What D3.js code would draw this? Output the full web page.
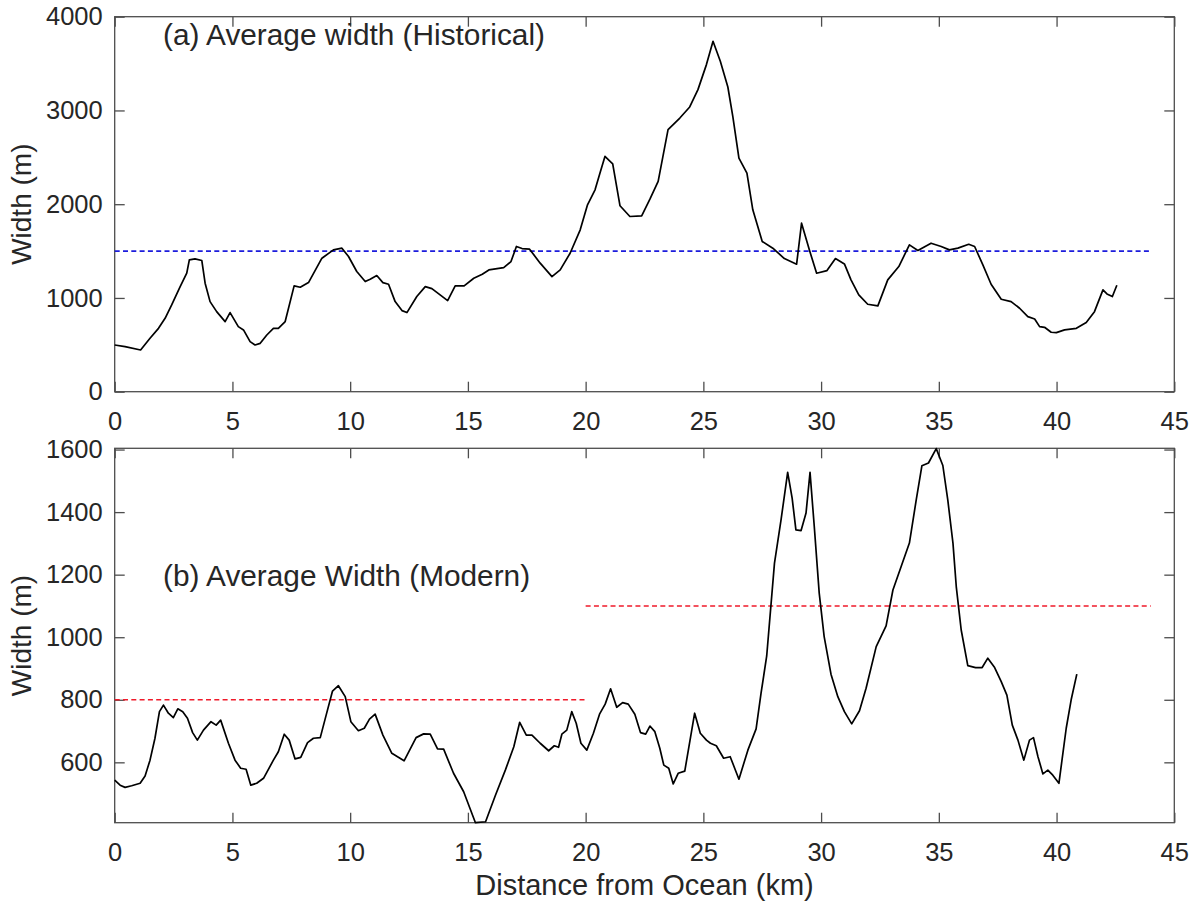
<!DOCTYPE html>
<html><head><meta charset="utf-8">
<script src="https://cdn.jsdelivr.net/npm/d3@7"></script>
<style>body{margin:0;background:#fff}svg{display:block}text{font-family:"Liberation Sans",Arial,sans-serif;fill:#262626}</style>
</head><body><svg id="c" width="1200" height="905"></svg>
<script>
const histKm=[0,0.44,1.1,1.5,1.86,2.14,2.42,2.78,3.06,3.17,3.41,3.7,3.84,4.05,4.33,4.69,4.9,5.25,5.47,5.75,5.96,6.18,6.46,6.74,6.95,7.24,7.62,7.88,8.23,8.8,9.29,9.65,9.93,10.28,10.64,10.85,11.13,11.39,11.63,11.91,12.2,12.41,12.83,13.19,13.47,13.82,14.14,14.46,14.84,15.25,15.61,15.89,16.52,16.83,17.06,17.3,17.62,18.07,18.57,18.92,19.34,19.77,20.08,20.4,20.61,20.82,21.15,21.46,21.88,22.38,22.73,23.08,23.5,24.0,24.42,24.77,25.13,25.41,25.72,26.04,26.25,26.51,26.85,27.1,27.5,27.95,28.44,28.96,29.17,29.5,29.81,30.25,30.61,30.99,31.27,31.6,31.98,32.41,32.83,33.3,33.75,34.11,34.67,35.1,35.45,35.81,36.27,36.52,36.87,37.22,37.65,38.07,38.43,38.78,39.07,39.28,39.49,39.77,39.99,40.34,40.84,41.26,41.61,41.97,42.14,42.37,42.56];
const histWidth=[498,480,445,570,676,783,926,1121,1264,1406,1417,1399,1157,961,854,748,844,694,659,534,498,516,605,676,676,748,1129,1114,1164,1424,1513,1531,1442,1282,1175,1200,1239,1164,1146,961,865,844,1015,1121,1100,1032,972,1129,1129,1210,1253,1299,1324,1388,1549,1527,1520,1371,1228,1299,1477,1727,1994,2154,2332,2510,2431,1983,1869,1876,2054,2243,2795,2919,3037,3222,3489,3738,3524,3250,2937,2492,2332,1940,1602,1531,1420,1360,1798,1513,1264,1292,1420,1363,1193,1032,933,915,1193,1335,1566,1506,1584,1549,1513,1531,1573,1549,1353,1146,986,961,890,801,776,694,687,634,630,659,676,737,854,1086,1043,1015,1136];
const modKm=[0,0.23,0.44,0.72,1.08,1.29,1.5,1.71,1.9,2.07,2.28,2.49,2.68,2.89,3.09,3.31,3.51,3.77,4.09,4.31,4.5,4.83,5.11,5.35,5.58,5.78,6.03,6.32,6.74,6.95,7.2,7.41,7.66,7.9,8.19,8.44,8.73,8.98,9.25,9.5,9.79,10.03,10.35,10.6,10.82,11.06,11.39,11.77,12.29,12.8,13.12,13.4,13.71,13.97,14.39,14.82,15.32,15.75,16.17,16.59,16.95,17.2,17.48,17.72,18.07,18.43,18.67,18.85,18.99,19.2,19.41,19.6,19.8,20.05,20.33,20.59,20.83,21.06,21.32,21.57,21.81,22.09,22.33,22.55,22.73,22.94,23.15,23.32,23.53,23.72,23.93,24.21,24.63,24.87,25.13,25.3,25.55,25.86,26.14,26.51,26.89,27.24,27.45,27.69,28.02,28.3,28.58,28.77,28.93,29.15,29.36,29.53,29.71,29.92,30.13,30.42,30.71,30.99,31.3,31.63,31.91,32.34,32.76,33.05,33.4,33.75,34.04,34.28,34.56,34.89,35.17,35.38,35.6,35.74,35.95,36.23,36.56,36.84,37.08,37.37,37.65,37.89,38.12,38.36,38.61,38.85,39.02,39.21,39.42,39.63,39.84,40.1,40.41,40.62,40.86];
const modWidth=[543,527,520,525,533,556,607,677,762,783,757,743,771,762,741,695,671,703,730,719,735,661,607,581,578,527,533,549,607,634,690,671,611,616,663,677,679,751,828,845,810,730,701,709,738,754,687,629,605,679,691,690,643,642,565,506,407,410,495,575,650,728,687,687,661,637,653,648,690,703,762,725,661,639,693,754,786,835,776,791,786,754,695,690,716,698,645,591,581,531,565,572,757,693,671,661,653,613,618,546,639,707,821,940,1237,1376,1527,1445,1343,1341,1397,1527,1354,1141,1002,882,810,762,723,765,837,970,1036,1151,1226,1301,1439,1548,1557,1603,1549,1439,1301,1162,1023,909,903,903,933,903,858,815,719,671,607,671,679,618,563,575,559,533,709,800,882];
const histMean=[{x0:0,x1:44,y:1500}];
const modMean=[{x0:0,x1:20,y:800},{x0:20,x1:44,y:1100}];
const xTicks=[0,5,10,15,20,25,30,35,40,45];
const histYTicks=[0,1000,2000,3000,4000];
const modYTicks=[600,800,1000,1200,1400,1600];
const titles=["(a) Average width (Historical)","(b) Average Width (Modern)"];

const svg=d3.select("#c");
const L=114.7,R=1174.3;
const x=d3.scaleLinear().domain([0,45]).range([L,R]);
const fmt=d3.format("d");
const panels=[
 {top:16.7,bot:391.7,ydom:[0,4000],ticks:histYTicks,km:histKm,w:histWidth,mean:histMean,col:"#1c1cdc",title:titles[0],tx:163,ty:45},
 {top:448.3,bot:822.7,ydom:[407,1604],ticks:modYTicks,km:modKm,w:modWidth,mean:modMean,col:"#f01a2a",title:titles[1],tx:163,ty:586}
];
const axCol="#4d4d4d";
panels.forEach((p,i)=>{
 const y=d3.scaleLinear().domain(p.ydom).range([p.bot,p.top]);
 const g=svg.append("g");
 const xb=g.append("g").attr("transform",`translate(0,${p.bot})`)
  .call(d3.axisBottom(x).tickValues(xTicks).tickSizeInner(-10).tickSizeOuter(0).tickPadding(20).tickFormat(fmt));
 const xt=g.append("g").attr("transform",`translate(0,${p.top})`)
  .call(d3.axisTop(x).tickValues(xTicks).tickSizeInner(-10).tickSizeOuter(0).tickFormat(""));
 const yl=g.append("g").attr("transform",`translate(${L},0)`)
  .call(d3.axisLeft(y).tickValues(p.ticks).tickSizeInner(-10).tickSizeOuter(0).tickPadding(12).tickFormat(fmt));
 const yr=g.append("g").attr("transform",`translate(${R},0)`)
  .call(d3.axisRight(y).tickValues(p.ticks).tickSizeInner(-10).tickSizeOuter(0).tickFormat(""));
 [xb,xt,yl,yr].forEach(a=>{a.select(".domain").remove();a.selectAll("line").attr("stroke",axCol).attr("stroke-width",1.3);
   a.selectAll("text").attr("font-size",25.5).attr("fill","#262626").attr("font-family","Liberation Sans, Arial, sans-serif");});
 xb.selectAll("text").attr("dy","0.71em");
 g.append("rect").attr("x",L).attr("y",p.top).attr("width",R-L).attr("height",p.bot-p.top)
  .attr("fill","none").attr("stroke",axCol).attr("stroke-width",1.3);
 g.selectAll("line.mean").data(p.mean).enter().append("line").attr("class","mean")
  .attr("x1",d=>x(d.x0)).attr("x2",d=>x(d.x1)).attr("y1",d=>y(d.y)).attr("y2",d=>y(d.y))
  .attr("stroke",p.col).attr("stroke-width",1.6).attr("stroke-dasharray","5,3.3");
 const data=d3.zip(p.km,p.w);
 g.append("path").datum(data).attr("fill","none").attr("stroke","#000").attr("stroke-width",1.7)
  .attr("stroke-linejoin","round")
  .attr("d",d3.line().x(d=>x(d[0])).y(d=>y(d[1])));
 g.append("text").attr("x",p.tx).attr("y",p.ty).attr("font-size",29.8).attr("fill","#000").text(p.title);
 g.append("text").attr("transform",`translate(31,${(p.top+p.bot)/2}) rotate(-90)`)
  .attr("text-anchor","middle").attr("font-size",28).text("Width (m)");
});
svg.append("text").attr("x",(L+R)/2).attr("y",895).attr("text-anchor","middle").attr("font-size",29).text("Distance from Ocean (km)");
</script></body></html>
